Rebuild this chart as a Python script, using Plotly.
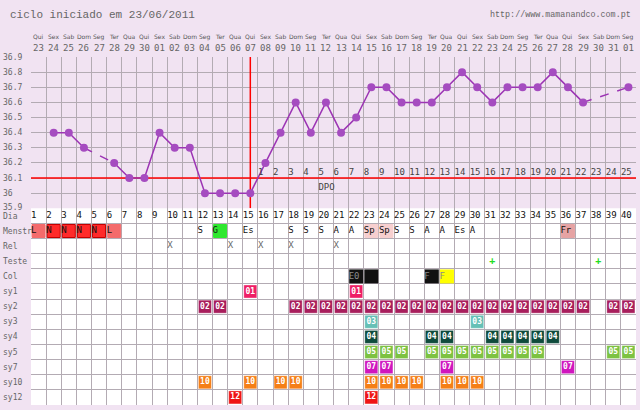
import plotly.graph_objects as go

# ---------------- data ----------------
days = list(range(1, 41))
weekdays = ["Qui", "Sex", "Sab", "Dom", "Seg", "Ter", "Qua", "Qui", "Sex", "Sab",
            "Dom", "Seg", "Ter", "Qua", "Qui", "Sex", "Sab", "Dom", "Seg", "Ter",
            "Qua", "Qui", "Sex", "Sab", "Dom", "Seg", "Ter", "Qua", "Qui", "Sex",
            "Sab", "Dom", "Seg", "Ter", "Qua", "Qui", "Sex", "Sab", "Dom", "Seg"]
dates = ["23", "24", "25", "26", "27", "28", "29", "30", "01", "02",
         "03", "04", "05", "06", "07", "08", "09", "10", "11", "12",
         "13", "14", "15", "16", "17", "18", "19", "20", "21", "22",
         "23", "24", "25", "26", "27", "28", "29", "30", "31", "01"]
temps = [None, 36.4, 36.4, 36.3, None, 36.2, 36.1, 36.1, 36.4, 36.3,
         36.3, 36.0, 36.0, 36.0, 36.0, 36.2, 36.4, 36.6, 36.4, 36.6,
         36.4, 36.5, 36.7, 36.7, 36.6, 36.6, 36.6, 36.7, 36.8, 36.7,
         36.6, 36.7, 36.7, 36.7, 36.8, 36.7, 36.6, None, None, 36.7]
temp_labels = ["36.9", "36.8", "36.7", "36.6", "36.5", "36.4", "36.3", "36.2", "36.1", "36", "35.9"]
temp_ticks = [36.9, 36.8, 36.7, 36.6, 36.5, 36.4, 36.3, 36.2, 36.1, 36.0, 35.9]
coverline = 36.1
ovulation_day = 15
dpo_labels = list(range(1, 26))

row_names = ["Dia", "Menstr", "Rel", "Teste", "Col", "sy1", "sy2", "sy3",
             "sy4", "sy5", "sy7", "sy10", "sy12"]

menstr_days = [1, 2, 3, 4, 5, 6, 12, 13, 15, 18, 19, 20, 21, 22, 23, 24, 25, 26, 27, 28, 29, 30, 36]
menstr_text = ["L", "N", "N", "N", "N", "L", "S", "G", "Es", "S", "S", "S", "A", "A",
               "Sp", "Sp", "S", "S", "A", "A", "Es", "A", "Fr"]
menstr_fill = {"L": "#f46b6b", "N": "#ff2a2a", "G": "#2ee82e", "Sp": "#f7cfcf", "Fr": "#e6a3a3"}

rel_days = [10, 14, 16, 18, 21]
teste_days = [31, 38]
col_days = [22, 23, 27, 28]
col_text = ["E0", "", "F", "F"]
col_fill = ["#111111", "#111111", "#111111", "#ffff00"]

sy_rows = {
    "sy1": ("01", [15, 22]),
    "sy2": ("02", [12, 13, 18, 19, 20, 21, 22, 23, 24, 25, 26, 27, 28, 29, 30,
                   31, 32, 33, 34, 35, 36, 37, 39, 40]),
    "sy3": ("03", [23, 30]),
    "sy4": ("04", [23, 27, 28, 31, 32, 33, 34, 35]),
    "sy5": ("05", [23, 24, 25, 27, 28, 29, 30, 31, 32, 33, 34, 39, 40]),
    "sy7": ("07", [23, 24, 28, 36]),
    "sy10": ("10", [12, 15, 17, 18, 23, 24, 25, 26, 28, 29, 30]),
    "sy12": ("12", [14, 23]),
}
sy_colors = {"sy1": "#ee1f65", "sy2": "#a81e5c", "sy3": "#66c0b6", "sy4": "#0f4b3c",
             "sy5": "#7dc242", "sy7": "#d016be", "sy10": "#f57f17", "sy12": "#ef1515"}

# ---------------- style ----------------
BG = "#f1e3f2"
GRID = "#b3abb3"
PURPLE_LINE = "#9c34b4"
PURPLE_MARK = "#a54cc0"
MONO = "DejaVu Sans Mono"
W, H = 640, 410
ML, MR, MT, MB = 31, 4, 57, 5
PW, PH = W - ML - MR, H - MT - MB
n_rows = len(row_names)
split = n_rows / (n_rows + 10)

tmin, tmax = temp_ticks[-1], temp_ticks[0]
x0, x1 = days[0] - 0.5, days[-1] + 0.5

fig = go.Figure()

# temperature: dashed bridges over missing days
valid = [(d, t) for d, t in zip(days, temps) if t is not None]
bx, by = [], []
for (d0, t0), (d1, t1) in zip(valid, valid[1:]):
    if d1 - d0 > 1:
        bx += [d0, d1, None]
        by += [t0, t1, None]
fig.add_trace(go.Scatter(x=bx, y=by, mode="lines", line=dict(color=PURPLE_LINE, width=1.5, dash="dash"),
                         hoverinfo="skip", showlegend=False))
# coverline and ovulation line
fig.add_trace(go.Scatter(x=[x0, x1], y=[coverline, coverline], mode="lines",
                         line=dict(color="#ff0000", width=1.5), hoverinfo="skip", showlegend=False))
fig.add_trace(go.Scatter(x=[ovulation_day, ovulation_day], y=[tmin, tmax], mode="lines",
                         line=dict(color="#ff0000", width=1.5), hoverinfo="skip", showlegend=False))
fig.add_trace(go.Scatter(x=days, y=temps, mode="lines+markers", connectgaps=False,
                         line=dict(color=PURPLE_LINE, width=1.5),
                         marker=dict(color=PURPLE_MARK, size=8),
                         showlegend=False))
# DPO numbers
dpo_x = [d - 0.5 for d in days[ovulation_day:]]
fig.add_trace(go.Scatter(x=dpo_x, y=[coverline + 0.035] * len(dpo_x), mode="text",
                         text=[str(v) for v in dpo_labels], textposition="middle right",
                         textfont=dict(family=MONO, size=9, color="#444444"),
                         hoverinfo="skip", showlegend=False, cliponaxis=False))
fig.add_trace(go.Scatter(x=[20 - 0.5], y=[coverline - 0.067], mode="text", text=["DPO"],
                         textposition="middle right",
                         textfont=dict(family=MONO, size=9, color="#444444"),
                         hoverinfo="skip", showlegend=False, cliponaxis=False))


def row_y(name):
    return row_names.index(name) + 0.5


def left_text(xs, name, texts, color, size=9):
    fig.add_trace(go.Scatter(x=[x - 0.5 for x in xs], y=[row_y(name)] * len(xs), mode="text",
                             text=texts, textposition="middle right",
                             textfont=dict(family=MONO, size=size, color=color),
                             xaxis="x", yaxis="y2", hoverinfo="skip", showlegend=False,
                             cliponaxis=False))


# Dia row
left_text(days, "Dia", [str(d) for d in days], "#111111")

# Menstr fills
mf_x = [d for d, t in zip(menstr_days, menstr_text) if t in menstr_fill]
mf_c = [menstr_fill[t] for t in menstr_text if t in menstr_fill]
mf_l = ["#c40000" if t == "N" else menstr_fill[t] for t in menstr_text if t in menstr_fill]
fig.add_trace(go.Scatter(x=mf_x, y=[row_y("Menstr")] * len(mf_x), mode="markers",
                         marker=dict(symbol="square", size=13, color=mf_c, line=dict(color=mf_l, width=1)),
                         xaxis="x", yaxis="y2", hoverinfo="skip", showlegend=False))
left_text(menstr_days, "Menstr", menstr_text, "#111111")

# Rel
left_text(rel_days, "Rel", ["X"] * len(rel_days), "#666666")

# Teste
fig.add_trace(go.Scatter(x=teste_days, y=[row_y("Teste")] * len(teste_days), mode="text",
                         text=["<b>+</b>"] * len(teste_days), textposition="middle center",
                         textfont=dict(family=MONO, size=10, color="#22dd22"),
                         xaxis="x", yaxis="y2", hoverinfo="skip", showlegend=False))

# Col
fig.add_trace(go.Scatter(x=col_days, y=[row_y("Col")] * len(col_days), mode="markers",
                         marker=dict(symbol="square", size=14, color=col_fill, line=dict(width=0)),
                         xaxis="x", yaxis="y2", hoverinfo="skip", showlegend=False))
left_text(col_days, "Col", col_text, "#8a8a8a")

# symptom codes
for name, (code, ds) in sy_rows.items():
    fig.add_trace(go.Scatter(x=ds, y=[row_y(name)] * len(ds), mode="markers+text",
                             marker=dict(symbol="square", size=13, color=sy_colors[name],
                                         line=dict(color="rgba(255,255,255,0.35)", width=1)),
                             text=["<b>%s</b>" % code] * len(ds), textposition="middle center",
                             textfont=dict(family=MONO, size=8, color="#ffffff"),
                             xaxis="x", yaxis="y2", hoverinfo="skip", showlegend=False))

annotations = []
# y labels for temperature
for v, lab in zip(temp_ticks, temp_labels):
    annotations.append(dict(x=-(ML - 1) / PW, xref="paper", y=v, yref="y", text=lab,
                            xanchor="left", yanchor="middle", showarrow=False,
                            yshift=1 if v == tmin else 0,
                            font=dict(family=MONO, size=8, color="#666666")))
for i, name in enumerate(row_names):
    annotations.append(dict(x=-(ML - 1) / PW, xref="paper", y=i + 0.5, yref="y2", text=name,
                            xanchor="left", yanchor="middle", showarrow=False,
                            yshift=-1 if i == 0 else 0,
                            font=dict(family=MONO, size=8, color="#666666")))
# header
for d, wd, dt in zip(days, weekdays, dates):
    annotations.append(dict(x=d, xref="x", y=(H - MB - 37) / PH, yref="paper", text=wd,
                            xanchor="center", yanchor="middle", showarrow=False,
                            font=dict(family="DejaVu Sans", size=6, color="#555555")))
    annotations.append(dict(x=d, xref="x", y=(H - MB - 48) / PH, yref="paper", text=dt,
                            xanchor="center", yanchor="middle", showarrow=False,
                            font=dict(family=MONO, size=9, color="#666666")))
annotations.append(dict(x=-(ML - 8) / PW, xref="paper", y=(H - MB - 15) / PH, yref="paper",
                        text="ciclo iniciado em 23/06/2011", xanchor="left", yanchor="middle",
                        showarrow=False, font=dict(family="Liberation Mono", size=11, color="#666666")))
annotations.append(dict(x=(633 - ML) / PW, xref="paper", y=(H - MB - 15) / PH, yref="paper",
                        text="http://www.mamanandco.com.pt", xanchor="right", yanchor="middle",
                        showarrow=False, font=dict(family="Liberation Mono", size=8.4, color="#666666")))

fig.update_layout(
    width=W, height=H,
    margin=dict(l=ML, r=MR, t=MT, b=MB, pad=0),
    paper_bgcolor=BG, plot_bgcolor=BG,
    showlegend=False,
    annotations=annotations,
    shapes=[dict(type="rect", xref="x domain", yref="y2 domain", x0=0, x1=1, y0=0, y1=1,
                 fillcolor="#ffffff", line=dict(width=0), layer="below")],
    xaxis=dict(domain=[0, 1], range=[x0, x1], anchor="y2",
               tickmode="array", tickvals=[d - 0.5 for d in days] + [x1],
               showticklabels=False, ticks="", showgrid=True, gridcolor=GRID, gridwidth=1,
               zeroline=False, showline=False, fixedrange=True),
    yaxis=dict(domain=[split, 1], range=[tmin, tmax], anchor="x",
               tickmode="array", tickvals=temp_ticks, showticklabels=False, ticks="",
               showgrid=True, gridcolor=GRID, gridwidth=1, zeroline=False, fixedrange=True),
    yaxis2=dict(domain=[0, split], range=[n_rows, 0], anchor="x",
                tickmode="array", tickvals=list(range(n_rows + 1)), showticklabels=False,
                ticks="", showgrid=True, gridcolor=GRID, gridwidth=1, zeroline=False,
                fixedrange=True),
)

fig.write_html("out.html", config={"displayModeBar": False},
               post_script="document.body.style.margin='0';")
